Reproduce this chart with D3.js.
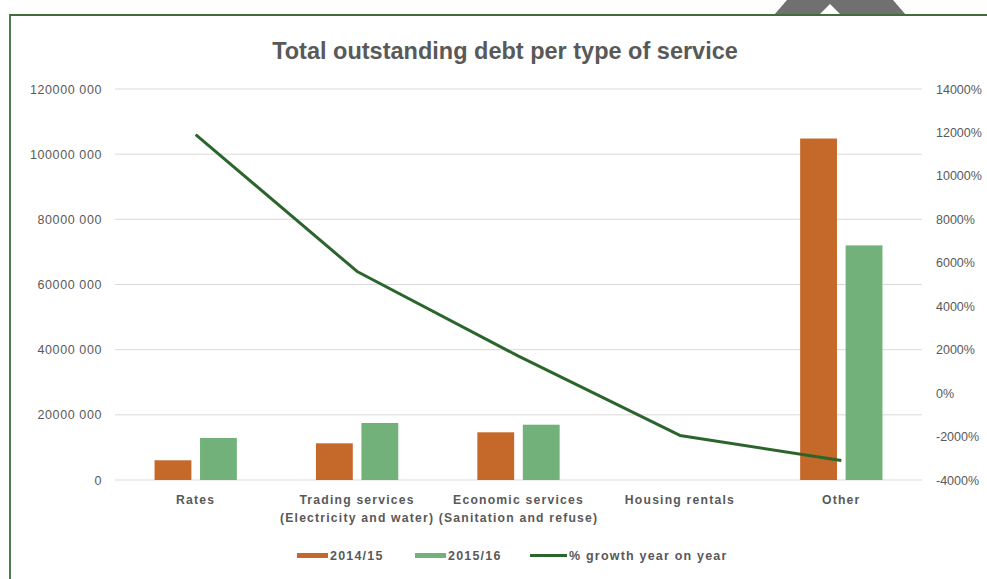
<!DOCTYPE html>
<html><head><meta charset="utf-8">
<script src="https://cdn.jsdelivr.net/npm/d3@7"></script>
<style>body{margin:0;background:#fff} svg{display:block}</style>
</head><body><svg id="c" width="987" height="579"></svg>
<script>
const categories = ["Rates", "Trading services\n(Electricity and water)", "Economic services\n(Sanitation and refuse)", "Housing rentals", "Other"];
const seriesNames = ["2014/15", "2015/16", "% growth year on year"];
const values2014 = [6050000, 11260000, 14640000, 0, 104800000];
const values2015 = [12900000, 17500000, 16970000, 0, 72000000];
const growthPct = [11900, 5600, 1700, -1950, -3100];
const leftTicks = [0, 20000000, 40000000, 60000000, 80000000, 100000000, 120000000];
const leftTickLabels = ["0", "20000 000", "40000 000", "60000 000", "80000 000", "100000 000", "120000 000"];
const rightTicks = [-4000, -2000, 0, 2000, 4000, 6000, 8000, 10000, 12000, 14000];
const title = "Total outstanding debt per type of service";

const colors = {o: "#C4692A", g: "#72B27A", line: "#2C652C", text: "#595959", grid: "#D9D9D9"};
const svg = d3.select("#c");
const W = 987, H = 579;
const pLeft = 115, pRight = 922, pTop = 89, pBottom = 480;
const FONT = "'Liberation Sans', Arial, sans-serif";

// decoration: frame and top shape
svg.append("path").attr("d", "M774,15 L787,0 L893,0 L906,15 Z").attr("fill", "#707070");
svg.append("path").attr("d", "M819,15 L830,4 L841,15 Z").attr("fill", "#fff");
svg.append("path").attr("d", `M10,${H} L10,15 L${W},15`).attr("fill", "none").attr("stroke", "#3F6E3A").attr("stroke-width", 1.8);

svg.append("text").attr("x", 505).attr("y", 59).attr("text-anchor", "middle")
  .attr("font-family", FONT).attr("font-size", 23.5).attr("font-weight", "bold")
  .attr("fill", colors.text).text(title);

const x = d3.scaleBand().domain(categories).range([pLeft, pRight]).padding(0);
const bw = x.bandwidth();
const x1 = d3.scaleBand().domain(["a", "b"]).range([bw * 0.245, bw * 0.755]).paddingInner(0.19);
const y = d3.scaleLinear().domain([0, 120000000]).range([pBottom, pTop]);
const yR = d3.scaleLinear().domain([-4000, 14000]).range([pBottom, pTop]);

// gridlines
svg.append("g").selectAll("line").data(leftTicks).join("line")
  .attr("x1", pLeft).attr("x2", pRight).attr("y1", d => y(d)).attr("y2", d => y(d))
  .attr("stroke", colors.grid).attr("stroke-width", 1);

// left axis
const yAxis = d3.axisLeft(y).tickValues(leftTicks).tickSize(0).tickPadding(0)
  .tickFormat((d, i) => leftTickLabels[i]);
const gl = svg.append("g").attr("transform", `translate(102,0)`).call(yAxis);
gl.select(".domain").remove();
gl.selectAll("text").attr("font-family", FONT).attr("font-size", 12.5).attr("fill", colors.text).attr("letter-spacing", 0.6);

// right axis
const yRAxis = d3.axisRight(yR).tickValues(rightTicks).tickSize(0).tickPadding(0)
  .tickFormat(d => d + "%");
const gr = svg.append("g").attr("transform", `translate(936,0)`).call(yRAxis);
gr.select(".domain").remove();
gr.selectAll("text").attr("font-family", FONT).attr("font-size", 12.5).attr("fill", colors.text);

// bars
const barData = [];
categories.forEach((c, i) => {
  barData.push({c, k: "a", v: values2014[i], col: colors.o});
  barData.push({c, k: "b", v: values2015[i], col: colors.g});
});
svg.append("g").selectAll("rect").data(barData.filter(d => d.v > 0)).join("rect")
  .attr("x", d => x(d.c) + x1(d.k)).attr("width", x1.bandwidth())
  .attr("y", d => y(d.v)).attr("height", d => y(0) - y(d.v))
  .attr("fill", d => d.col);

// line
const line = d3.line().x((d, i) => x(categories[i]) + bw / 2).y(d => yR(d));
svg.append("path").datum(growthPct).attr("d", line).attr("fill", "none")
  .attr("stroke", colors.line).attr("stroke-width", 3).attr("stroke-linejoin", "round");

// category labels
const cl = svg.append("g").selectAll("text").data(categories).join("text")
  .attr("x", d => x(d) + bw / 2).attr("y", 504).attr("text-anchor", "middle")
  .attr("font-family", FONT).attr("font-size", 12.2).attr("font-weight", "bold")
  .attr("letter-spacing", 1.2).attr("fill", colors.text);
cl.selectAll("tspan").data(d => d.split("\n")).join("tspan")
  .attr("x", function () { return d3.select(this.parentNode).attr("x"); })
  .attr("dy", (d, i) => i ? 17.5 : 0).text(d => d);

// legend
const legend = [
  {name: seriesNames[0], col: colors.o, x: 297, w: 31, h: 5},
  {name: seriesNames[1], col: colors.g, x: 415, w: 31, h: 5},
  {name: seriesNames[2], col: colors.line, x: 530, w: 37, h: 3}
];
const lg = svg.append("g").selectAll("g").data(legend).join("g");
lg.append("rect").attr("x", d => d.x).attr("y", d => 555.5 - d.h / 2).attr("width", d => d.w).attr("height", d => d.h).attr("fill", d => d.col);
lg.append("text").attr("x", d => d.x + d.w + 2).attr("y", 560).attr("font-family", FONT)
  .attr("font-size", 12.5).attr("font-weight", "bold").attr("letter-spacing", 1.2)
  .attr("fill", colors.text).text(d => d.name);
</script></body></html>
